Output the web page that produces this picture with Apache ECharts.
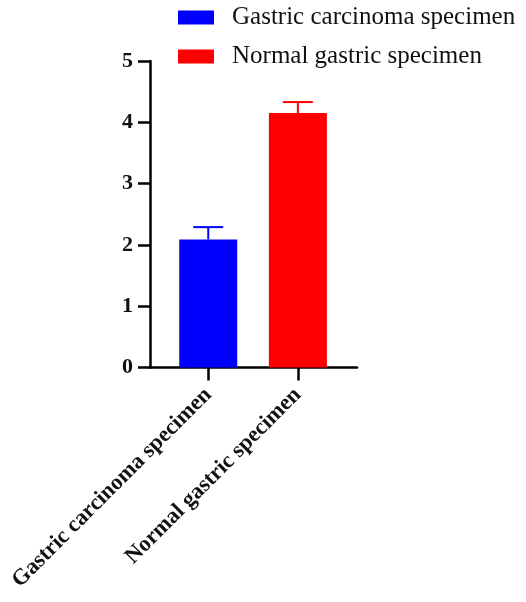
<!DOCTYPE html>
<html>
<head>
<meta charset="utf-8">
<script src="https://cdn.jsdelivr.net/npm/echarts@6/dist/echarts.min.js"></script>
<style>html,body{margin:0;padding:0;background:#fff;}#c{width:526px;height:602px;}</style>
</head>
<body>
<div id="c"></div>
<script>
const categories = ['Gastric carcinoma specimen', 'Normal gastric specimen'];
const means = [2.09, 4.15];
const errors = [0.20, 0.18];
const colors = ['#0000ff', '#ff0000'];
const yTicks = [0, 1, 2, 3, 4, 5];

const chart = echarts.init(document.getElementById('c'));
const serif = '"Liberation Serif", "Times New Roman", serif';

const barSeries = categories.map((name, i) => ({
  name: name,
  type: 'bar',
  barWidth: 58,
  barGap: '-100%',
  itemStyle: { color: colors[i] },
  data: [[i + 1, means[i]]],
  z: 2
}));

const errSeries = {
  type: 'custom',
  silent: true,
  z: 3,
  data: categories.map((c, i) => [i + 1, means[i], errors[i]]),
  renderItem: function (params, api) {
    const x = api.value(0), m = api.value(1), e = api.value(2);
    const p0 = api.coord([x, m]);
    const p1 = api.coord([x, m + e]);
    const half = 15;
    const col = colors[params.dataIndex];
    return {
      type: 'group',
      children: [
        { type: 'line', shape: { x1: p0[0], y1: p0[1], x2: p1[0], y2: p1[1] }, style: { stroke: col, lineWidth: 2 } },
        { type: 'line', shape: { x1: p1[0] - half, y1: p1[1], x2: p1[0] + half, y2: p1[1] }, style: { stroke: col, lineWidth: 2 } }
      ]
    };
  }
};

chart.setOption({
  animation: false,
  backgroundColor: '#fff',
  legend: {
    orient: 'vertical',
    left: 173,
    top: 0,
    itemWidth: 36,
    itemHeight: 14,
    itemGap: 14,
    icon: 'rect',
    data: categories,
    textStyle: { fontFamily: serif, fontSize: 25, lineHeight: 25, color: '#111', padding: [0, 0, 0, 13] }
  },
  grid: { left: 150, top: 61, width: 207, height: 306.5, containLabel: false },
  xAxis: {
    type: 'value',
    min: 0.35,
    max: 2.66,
    splitLine: { show: false },
    axisLine: { show: true, onZero: true, lineStyle: { color: '#000', width: 2.5 } },
    axisTick: { show: true, length: 13, lineStyle: { color: '#000', width: 2.5 }, customValues: [1, 2] },
    axisLabel: {
      customValues: [1, 2],
      rotate: 45,
      margin: 24,
      fontFamily: serif,
      fontWeight: 'bold',
      fontSize: 22.5,
      color: '#111',
      formatter: function (v) { return categories[Math.round(v) - 1] || ''; }
    }
  },
  yAxis: {
    type: 'value',
    min: yTicks[0],
    max: yTicks[yTicks.length - 1],
    interval: 1,
    splitLine: { show: false },
    axisLine: { show: true, lineStyle: { color: '#000', width: 2.5 } },
    axisTick: { show: true, length: 12, lineStyle: { color: '#000', width: 2.5 } },
    axisLabel: { margin: 17, fontFamily: serif, fontWeight: 'bold', fontSize: 22, color: '#111' }
  },
  series: barSeries.concat([errSeries])
});
</script>
</body>
</html>
